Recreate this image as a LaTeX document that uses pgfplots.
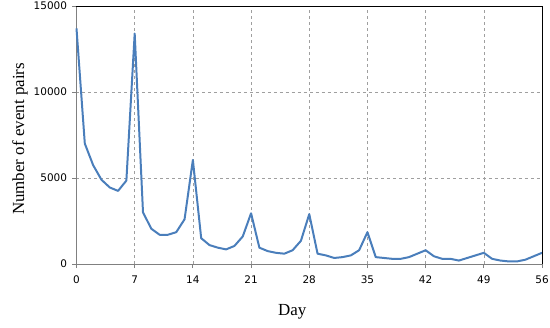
\documentclass[border=0pt]{standalone}
\usepackage{pgfplots}
\pgfplotsset{compat=1.18}
\usepackage{fontspec}
\setmainfont{Liberation Serif}
\newfontfamily\tickfont{DejaVu Sans}
\definecolor{lineblue}{RGB}{74,126,187}
\begin{document}
\begin{tikzpicture}
\begin{axis}[
  at={(0,0)}, anchor=south west,
  scale only axis, width=465.5bp, height=258bp,
  xmin=0, xmax=56, ymin=0, ymax=15000,
  xtick={0,7,...,56}, ytick={0,5000,10000,15000},
  scaled y ticks=false,
  axis lines*=left,
  axis line style={gray, line width=0.8pt},
  tick align=outside, major tick length=4bp,
  tick style={gray, line width=0.8pt},
  grid=major,
  major grid style={dashed, gray!75, line width=0.6pt},
  /pgf/number format/assume math mode=true,
  /pgf/number format/1000 sep={},
  ticklabel style={font=\tickfont\fontsize{10.5}{12}\selectfont},
  xticklabel style={yshift=-4bp},
  yticklabel style={xshift=-2bp},
  xlabel={Day}, ylabel={Number of event pairs},
  label style={font=\fontsize{17}{20}\selectfont},
  xlabel style={at={(rel axis cs:0.5,0)}, anchor=center, yshift=-48bp, xshift=-17bp},
  ylabel style={at={(rel axis cs:0,0.5)}, anchor=center, yshift=56.5bp, xshift=-4bp},
  clip=false,
]
\addplot[lineblue, line width=2pt, line join=round] coordinates {
(0,13700) (1,7000) (2,5750) (3,4900) (4,4450) (5,4250) (6,4850) (7,13400)
(8,3000) (9,2050) (10,1700) (11,1700) (12,1850) (13,2600) (14,6050)
(15,1500) (16,1100) (17,950) (18,850) (19,1050) (20,1600) (21,2950)
(22,950) (23,750) (24,650) (25,600) (26,800) (27,1350) (28,2900)
(29,600) (30,500) (31,350) (32,400) (33,500) (34,800) (35,1850)
(36,400) (37,350) (38,300) (39,300) (40,400) (41,600) (42,800)
(43,450) (44,300) (45,300) (46,200) (47,350) (48,500) (49,650)
(50,300) (51,200) (52,150) (53,150) (54,250) (55,450) (56,650)
};
\draw[black, line width=0.8pt] (rel axis cs:0,1) -- (rel axis cs:1,1) -- (rel axis cs:1,0);
\end{axis}
\pgfresetboundingbox
\path (-76.5bp,-64bp) rectangle (473.5bp,264bp);
\end{tikzpicture}
\end{document}
